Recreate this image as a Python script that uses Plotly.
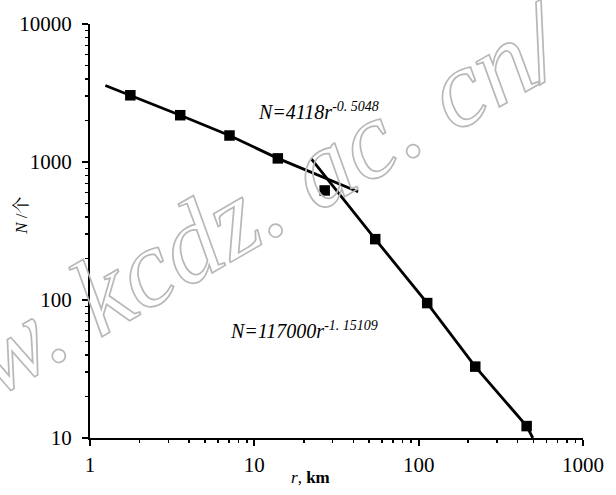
import plotly.graph_objects as go

# ---- data ----
r_points = [1.76, 3.54, 7.06, 13.9, 26.8, 54.4, 112.7, 221, 454]
N_points = [3044, 2183, 1556, 1062, 622, 276, 95, 32.9, 12.2]

upper_r = [1.24, 1.76, 3.54, 7.06, 13.9, 42.8]
upper_N = [3585, 3044, 2183, 1556, 1062, 608]

lower_r = [22.1, 54.4, 112.7, 221, 454, 495]
lower_N = [1062, 276, 95, 32.9, 12.2, 10]

x_tickvals = [1, 10, 100, 1000]
x_ticktext = ["1", "10", "100", "1000"]
y_tickvals = [10, 100, 1000, 10000]
y_ticktext = ["10", "100", "1000", "10000"]

eq_upper = "<i>N=4118r<sup>-0. 5048</sup></i>"
eq_lower = "<i>N=117000r<sup>-1. 15109</sup></i>"
watermark = "<i>www. kcdz. ac. cn/</i>"

SERIF = "Liberation Serif, Times New Roman, Noto Serif CJK SC, Noto Sans CJK SC, serif"

x_minor = [m * 10 ** d for d in range(0, 3) for m in range(2, 10)]
y_minor = [m * 10 ** d for d in range(1, 4) for m in range(2, 10)]

fig = go.Figure()
fig.add_trace(go.Scatter(x=upper_r, y=upper_N, mode="lines",
                         line=dict(color="black", width=2.8), hoverinfo="skip"))
fig.add_trace(go.Scatter(x=lower_r, y=lower_N, mode="lines",
                         line=dict(color="black", width=2.8), hoverinfo="skip"))
fig.add_trace(go.Scatter(x=r_points, y=N_points, mode="markers",
                         marker=dict(symbol="square", size=10.5, color="black")))

L, R, T, B = 90, 33, 17, 57
W, H = 616, 495
pw, ph = W - L - R, H - T - B

def px(xp):
    return (xp - L) / pw

def py(yp):
    return (H - B - yp) / ph

annotations = [
    dict(text=watermark, x=px(204), y=py(232), xref="paper", yref="paper",
         xanchor="center", yanchor="middle", textangle=-30, showarrow=False,
         font=dict(family=SERIF, size=110, color="rgba(180,180,180,0.6)")),
    dict(text=eq_upper, x=px(256), y=py(105), xref="paper", yref="paper",
         xanchor="left", yanchor="middle", showarrow=False,
         font=dict(family=SERIF, size=20, color="black")),
    dict(text=eq_lower, x=px(228), y=py(328), xref="paper", yref="paper",
         xanchor="left", yanchor="middle", showarrow=False,
         font=dict(family=SERIF, size=20, color="black")),
    dict(text="<i>r</i>, <b>km</b>", x=px(310), y=py(478), xref="paper", yref="paper",
         xanchor="center", yanchor="middle", showarrow=False,
         font=dict(family=SERIF, size=17, color="black")),
    dict(text="<i>N</i> /个", x=px(22), y=py(212), xref="paper", yref="paper",
         xanchor="center", yanchor="middle", textangle=-90, showarrow=False,
         font=dict(family=SERIF, size=17, color="black")),
]

fig.update_layout(
    width=W, height=H,
    margin=dict(l=L, r=R, t=T, b=B),
    paper_bgcolor="white", plot_bgcolor="white",
    showlegend=False,
    annotations=annotations,
    font=dict(family=SERIF, color="black"),
)

fig.update_xaxes(type="log", range=[0, 3], showgrid=False, zeroline=False,
                 showline=True, linecolor="black", linewidth=2,
                 tickvals=x_tickvals, ticktext=x_ticktext,
                 ticks="outside", ticklen=6, tickwidth=2, tickcolor="black",
                 tickfont=dict(family=SERIF, size=21, color="black"),
                 ticklabelstandoff=1,
                 minor=dict(tickvals=x_minor, ticks="outside", ticklen=3,
                            tickwidth=1.5, tickcolor="black", showgrid=False))
fig.update_yaxes(type="log", range=[1, 4], showgrid=False, zeroline=False,
                 showline=True, linecolor="black", linewidth=2,
                 tickvals=y_tickvals, ticktext=y_ticktext,
                 ticks="outside", ticklen=6, tickwidth=2, tickcolor="black",
                 tickfont=dict(family=SERIF, size=21, color="black"),
                 ticklabelstandoff=6,
                 minor=dict(tickvals=y_minor, ticks="outside", ticklen=3,
                            tickwidth=1.5, tickcolor="black", showgrid=False))

post = ("document.body.style.margin='0';"
        "document.body.style.overflow='hidden';"
        "var s=document.createElement('style');"
        "s.textContent='.annotation[data-index=\"0\"] text, .annotation[data-index=\"0\"] tspan"
        "{fill:none !important;stroke:#b8b8b8 !important;stroke-width:1.7px !important;}';"
        "document.head.appendChild(s);")

fig.write_html("out.html", post_script=post,
               config={"displayModeBar": False, "staticPlot": True})
